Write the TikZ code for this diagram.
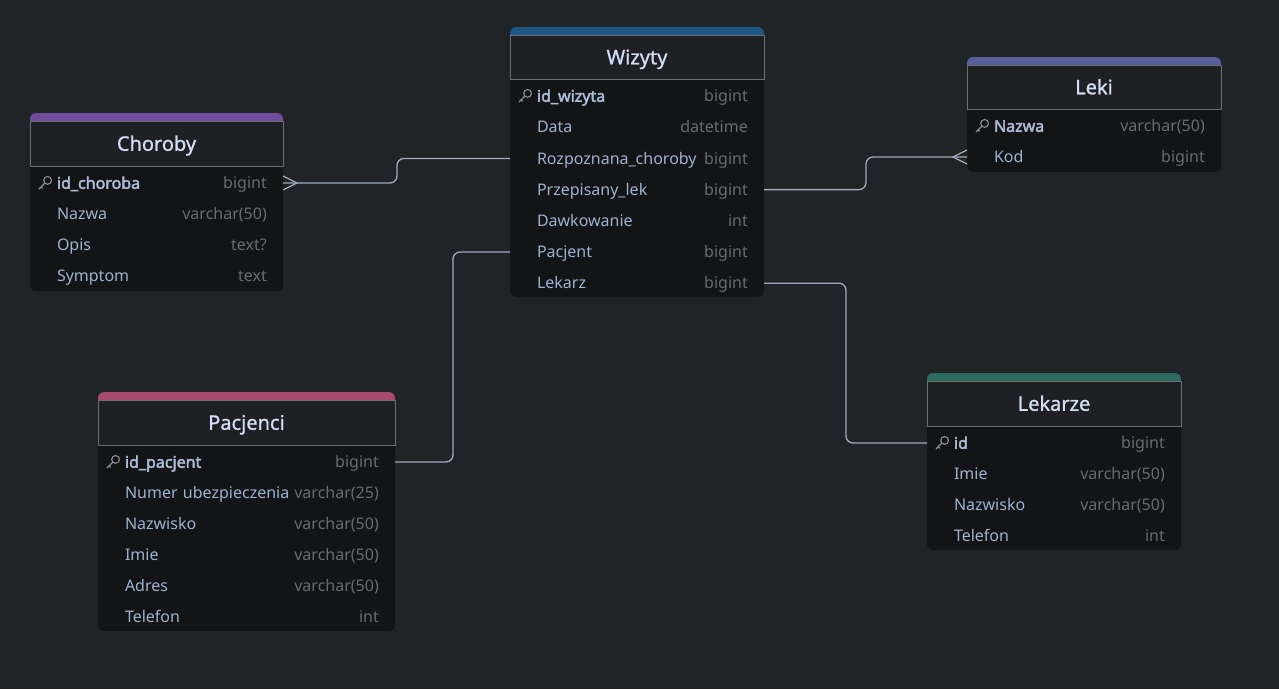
\documentclass[tikz,border=0pt]{standalone}
\usepackage{fontspec}
\setmainfont{Noto Sans}[AutoFakeBold=2.5]
\newfontfamily\titlefont{Noto Sans}[FakeBold=1]

\definecolor{canvas}{HTML}{212427}
\definecolor{bodybg}{HTML}{131415}
\definecolor{headbg}{HTML}{1E2023}
\definecolor{headline}{HTML}{6B6F75}
\definecolor{titletext}{HTML}{D3DFF7}
\definecolor{fieldtext}{HTML}{9DB3D2}
\definecolor{keytext}{HTML}{ABBCD9}
\definecolor{typetext}{HTML}{696B6F}
\definecolor{keyicon}{HTML}{8D9197}
\definecolor{relline}{HTML}{A0ABBB}
\definecolor{wizbar}{HTML}{1F5682}
\definecolor{chobar}{HTML}{6E4C9E}
\definecolor{lekbar}{HTML}{585E99}
\definecolor{pacbar}{HTML}{A84A6B}
\definecolor{lkzbar}{HTML}{2B6B60}

\tikzset{
  tablebody/.style={fill=bodybg, rounded corners=6pt},
  tablebar/.style={rounded corners=6pt},
  tablehead/.style={draw=headline, fill=headbg, line width=1pt, text=titletext,
    font=\titlefont\fontsize{20}{24}\selectfont, anchor=north west, inner sep=0pt, outer sep=0pt,
    text height=19pt, text depth=4.5pt},
  fieldrow/.style={anchor=west, inner xsep=27pt, inner ysep=0pt, outer sep=0pt, align=left,
    text=fieldtext, font=\fontsize{16}{19}\selectfont, text height=15pt, text depth=3.5pt},
  keyrow/.style={fieldrow, text=keytext, font=\fontsize{16}{19}\selectfont\bfseries},
  fieldtype/.style={anchor=east, text=typetext, font=\fontsize{16}{19}\selectfont,
    inner sep=0pt, xshift=-16pt, text height=15pt, text depth=3.5pt},
  rel/.style={draw=relline, line width=1.3pt, rounded corners=7pt},
  crow/.style={draw=relline, line width=1.3pt},
  pk/.pic={
    \draw[keyicon, line width=1.1pt] (2.6,-2.6) circle (3.9);
    \draw[keyicon, line width=1.1pt] (-0.2,0.2) -- (-6,6) (-3.8,3.8) -- (-2.2,5.4);
  }
}

\begin{document}
\begin{tikzpicture}[x=1pt, y=-1pt]
\useasboundingbox (0,0) rectangle (1279,689);
\fill[canvas] (0,0) rectangle (1279,689);

% Wizyty
\fill[tablebody] (510,27) rectangle (764,297);
\fill[tablebar, wizbar] (510,27) rectangle (764,50);
\node[tablehead, minimum width=254pt, minimum height=44pt] (wiz) at (510,35) {Wizyty};
\node[keyrow, text width=200pt] (wiz-1) at ([yshift=-17]wiz.south west) {id\_wizyta};
\node[fieldtype] at (wiz-1.east) {bigint};
\pic at ([xshift=15]wiz-1.west) {pk};
\foreach \fname/\ftype [count=\i from 2] in {Data/datetime, Rozpoznana\_choroby/bigint,
    Przepisany\_lek/bigint, Dawkowanie/int, Pacjent/bigint, Lekarz/bigint} {
  \node[fieldrow, text width=200pt] (wiz-\i) at ([yshift={-17-31.2*(\i-1)}]wiz.south west) {\fname};
  \node[fieldtype] at (wiz-\i.east) {\ftype};
}

% Choroby
\fill[tablebody] (30,113) rectangle (283,291);
\fill[tablebar, chobar] (30,113) rectangle (283,136);
\node[tablehead, minimum width=253pt, minimum height=45pt] (cho) at (30,121) {Choroby};
\node[keyrow, text width=199pt] (cho-1) at ([yshift=-17]cho.south west) {id\_choroba};
\node[fieldtype] at (cho-1.east) {bigint};
\pic at ([xshift=15]cho-1.west) {pk};
\foreach \fname/\ftype [count=\i from 2] in {Nazwa/varchar(50), Opis/text?, Symptom/text} {
  \node[fieldrow, text width=199pt] (cho-\i) at ([yshift={-17-31*(\i-1)}]cho.south west) {\fname};
  \node[fieldtype] at (cho-\i.east) {\ftype};
}

% Leki
\fill[tablebody] (967,57) rectangle (1221,172);
\fill[tablebar, lekbar] (967,57) rectangle (1221,80);
\node[tablehead, minimum width=254pt, minimum height=44pt] (lek) at (967,65) {Leki};
\node[keyrow, text width=200pt] (lek-1) at ([yshift=-17]lek.south west) {Nazwa};
\node[fieldtype] at (lek-1.east) {varchar(50)};
\pic at ([xshift=15]lek-1.west) {pk};
\node[fieldrow, text width=200pt] (lek-2) at ([yshift=-48]lek.south west) {Kod};
\node[fieldtype] at (lek-2.east) {bigint};

% Pacjenci
\fill[tablebody] (98,392) rectangle (395,631);
\fill[tablebar, pacbar] (98,392) rectangle (395,415);
\node[tablehead, minimum width=297pt, minimum height=45pt] (pac) at (98,400) {Pacjenci};
\node[keyrow, text width=243pt] (pac-1) at ([yshift=-17]pac.south west) {id\_pacjent};
\node[fieldtype] at (pac-1.east) {bigint};
\pic at ([xshift=15]pac-1.west) {pk};
\foreach \fname/\ftype [count=\i from 2] in {Numer ubezpieczenia/varchar(25), Nazwisko/varchar(50),
    Imie/varchar(50), Adres/varchar(50), Telefon/int} {
  \node[fieldrow, text width=243pt] (pac-\i) at ([yshift={-17-31*(\i-1)}]pac.south west) {\fname};
  \node[fieldtype] at (pac-\i.east) {\ftype};
}

% Lekarze
\fill[tablebody] (927,373) rectangle (1181,550);
\fill[tablebar, lkzbar] (927,373) rectangle (1181,396);
\node[tablehead, minimum width=254pt, minimum height=45pt] (lkz) at (927,381) {Lekarze};
\node[keyrow, text width=200pt] (lkz-1) at ([yshift=-17]lkz.south west) {id};
\node[fieldtype] at (lkz-1.east) {bigint};
\pic at ([xshift=15]lkz-1.west) {pk};
\foreach \fname/\ftype [count=\i from 2] in {Imie/varchar(50), Nazwisko/varchar(50), Telefon/int} {
  \node[fieldrow, text width=200pt] (lkz-\i) at ([yshift={-17-30.8*(\i-1)}]lkz.south west) {\fname};
  \node[fieldtype] at (lkz-\i.east) {\ftype};
}

% relations
\draw[rel] (cho-1.east) -- ++(114,0) |- (wiz-3.west);
\draw[crow] ([yshift=7]cho-1.east) -- ([xshift=14]cho-1.east) -- ([yshift=-7]cho-1.east);
\draw[rel] (wiz-4.east) -- ++(102,0) |- (lek-2.west);
\draw[crow] ([yshift=7]lek-2.west) -- ([xshift=-14]lek-2.west) -- ([yshift=-7]lek-2.west);
\draw[rel] (wiz-6.west) -- ++(-57,0) |- (pac-1.east);
\draw[rel] (wiz-7.east) -- ++(82,0) |- (lkz-1.west);
\end{tikzpicture}
\end{document}
